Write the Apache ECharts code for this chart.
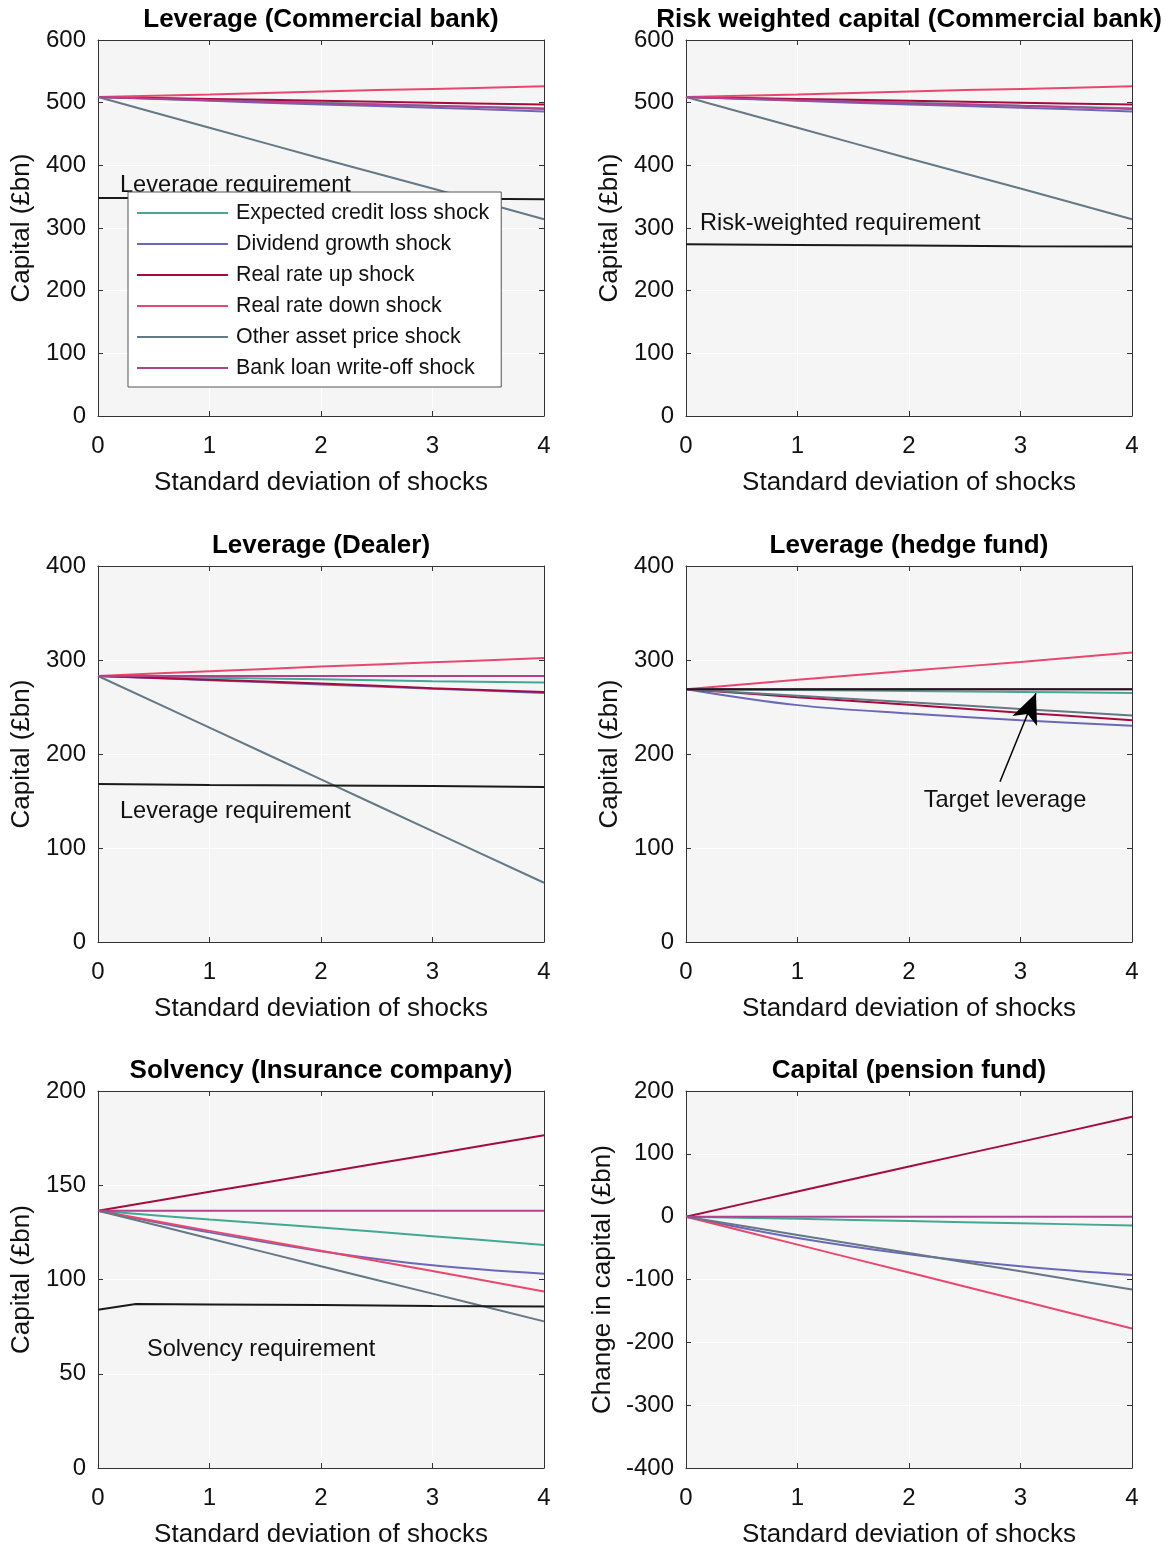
<!DOCTYPE html>
<html><head><meta charset="utf-8">
<script src="https://cdn.jsdelivr.net/npm/echarts@6/dist/echarts.min.js"></script>
<style>html,body{margin:0;padding:0;background:#fff}#c{width:1171px;height:1549px}</style>
</head><body><div id="c"></div>
<script>
// ---------- data ----------
const sd = [0, 1, 2, 3, 4];
const shockNames = ['Expected credit loss shock', 'Dividend growth shock', 'Real rate up shock',
  'Real rate down shock', 'Other asset price shock', 'Bank loan write-off shock'];

// Leverage (Commercial bank)
const cbLevECL = [509, 505, 500, 495, 491];
const cbLevDIV = [509, 503, 497, 492, 486];
const cbLevRRU = [509, 506, 503, 500, 497];
const cbLevRRD = [509, 513, 518, 522, 526];
const cbLevOAP = [509, 460, 411, 363, 314];
const cbLevBLW = [509, 504, 499, 495, 490];
const cbLevReq = [348, 348, 347, 347, 346];

// Risk weighted capital (Commercial bank)
const cbRwECL = [509, 505, 500, 495, 491];
const cbRwDIV = [509, 503, 497, 492, 486];
const cbRwRRU = [509, 506, 503, 500, 497];
const cbRwRRD = [509, 513, 518, 522, 526];
const cbRwOAP = [509, 460, 411, 363, 314];
const cbRwBLW = [509, 504, 499, 495, 490];
const cbRwReq = [274, 273, 272, 271, 270.5];

// Leverage (Dealer)
const dlECL = [283, 281, 279.5, 277.5, 276];
const dlDIV = [283, 278.5, 274, 269.5, 265];
const dlRRU = [283, 279, 275, 270, 266];
const dlRRD = [283, 288, 293, 297.5, 302];
const dlOAP = [283, 228, 173, 118, 63];
const dlBLW = [283, 283, 283, 283, 283];
const dlReq = [168, 167, 166.5, 166, 165];

// Leverage (hedge fund)
const hfECL = [269, 268, 267, 266, 265];
const hfDIV = [269, 252, 243, 236, 230];
const hfRRU = [269, 260.5, 252.5, 244, 236];
const hfRRD = [269, 279, 288.5, 298, 308];
const hfOAP = [269, 262, 255, 248, 241];
const hfBLW = [269, 269, 269, 269, 269];
const hfTarget = [269, 269, 269, 269, 269];

// Solvency (Insurance company)
const icECL = [136.5, 131.8, 127.6, 123, 118.3];
const icDIV = [136.5, 125, 115, 107.5, 103];
const icRRU = [136.5, 146.5, 156.5, 166.5, 176.5];
const icRRD = [136.5, 125.8, 115.2, 104.5, 93.6];
const icOAP = [136.5, 121.8, 107, 92.5, 77.8];
const icBLW = [136.5, 136.5, 136.5, 136.5, 136.5];
const icReqX = [0, 0.34, 1, 2, 3, 4];
const icReq = [84, 87, 86.8, 86.5, 86, 85.7];

// Capital (pension fund)
const pfECL = [0, -3.5, -7, -10.5, -14];
const pfDIV = [0, -34, -60, -79, -93];
const pfRRU = [0, 40, 80, 119, 159];
const pfRRD = [0, -44.5, -89, -133.5, -178];
const pfOAP = [0, -29, -58, -87, -116];
const pfBLW = [0, 0, 0, 0, 0];

const xTicks = [0, 4, 1];          // min, max, interval
const yTicks1 = [0, 600, 100];
const yTicks2 = [0, 400, 100];
const yTicks3 = [0, 200, 50];
const yTicks4 = [-400, 200, 100];

// ---------- styling ----------
const FONT = '"Liberation Sans", Arial, Helvetica, sans-serif';
const colors = ['#43a892', '#6c68b8', '#a50b3f', '#e8486d', '#647885', '#b0428e'];
const reqColor = '#1a1a1a';
const axisColor = '#333';

const panels = [
  { title: 'Leverage (Commercial bank)', yName: 'Capital (£bn)', y: yTicks1, left: 98, top: 40, h: 376, nameGap: 63,
    s: [cbLevECL, cbLevDIV, cbLevRRU, cbLevRRD, cbLevOAP, cbLevBLW], reqName: 'Leverage requirement', reqX: sd, req: cbLevReq },
  { title: 'Risk weighted capital (Commercial bank)', yName: 'Capital (£bn)', y: yTicks1, left: 686, top: 40, h: 376, nameGap: 63,
    s: [cbRwECL, cbRwDIV, cbRwRRU, cbRwRRD, cbRwOAP, cbRwBLW], reqName: 'Risk-weighted requirement', reqX: sd, req: cbRwReq },
  { title: 'Leverage (Dealer)', yName: 'Capital (£bn)', y: yTicks2, left: 98, top: 566, h: 376, nameGap: 63,
    s: [dlECL, dlDIV, dlRRU, dlRRD, dlOAP, dlBLW], reqName: 'Leverage requirement', reqX: sd, req: dlReq },
  { title: 'Leverage (hedge fund)', yName: 'Capital (£bn)', y: yTicks2, left: 686, top: 566, h: 376, nameGap: 63,
    s: [hfECL, hfDIV, hfRRU, hfRRD, hfOAP, hfBLW], reqName: 'Target leverage', reqX: sd, req: hfTarget, arrow: true },
  { title: 'Solvency (Insurance company)', yName: 'Capital (£bn)', y: yTicks3, left: 98, top: 1091, h: 378, nameGap: 63,
    s: [icECL, icDIV, icRRU, icRRD, icOAP, icBLW], reqName: 'Solvency requirement', reqX: icReqX, req: icReq },
  { title: 'Capital (pension fund)', yName: 'Change in capital (£bn)', y: yTicks4, left: 686, top: 1091, h: 378, nameGap: 70,
    s: [pfECL, pfDIV, pfRRU, pfRRD, pfOAP, pfBLW] }
];

const W = 446;
const grid = [], xAxis = [], yAxis = [], series = [], graphic = [];
const labelStyle = { fontSize: 24, color: '#111', fontFamily: FONT };

panels.forEach((p, i) => {
  grid.push({ left: p.left, top: p.top, width: W, height: p.h, show: true, backgroundColor: '#f5f5f5', borderWidth: 0 });
  xAxis.push({ type: 'value', gridIndex: i, position: 'bottom', min: xTicks[0], max: xTicks[1], interval: xTicks[2],
    name: 'Standard deviation of shocks', nameLocation: 'middle', nameGap: 54,
    nameTextStyle: { fontSize: 26, color: '#111', fontFamily: FONT },
    axisLine: { show: true, onZero: false, lineStyle: { color: axisColor, width: 1 } },
    axisTick: { show: true, inside: true, length: 5, lineStyle: { color: axisColor } },
    axisLabel: Object.assign({ margin: 18 }, labelStyle),
    splitLine: { show: true, lineStyle: { color: '#ffffff', width: 1 } } });
  xAxis.push({ type: 'value', gridIndex: i, position: 'top', min: xTicks[0], max: xTicks[1], interval: xTicks[2],
    axisLine: { show: true, onZero: false, lineStyle: { color: axisColor, width: 1 } },
    axisTick: { show: true, inside: true, length: 5, lineStyle: { color: axisColor } },
    axisLabel: { show: false }, splitLine: { show: false } });
  yAxis.push({ type: 'value', gridIndex: i, position: 'left', min: p.y[0], max: p.y[1], interval: p.y[2],
    name: p.yName, nameLocation: 'middle', nameGap: p.nameGap,
    nameTextStyle: { fontSize: 26, color: '#111', fontFamily: FONT },
    axisLine: { show: true, onZero: false, lineStyle: { color: axisColor, width: 1 } },
    axisTick: { show: true, inside: true, length: 5, lineStyle: { color: axisColor } },
    axisLabel: Object.assign({ margin: 12, padding: [4, 0, 0, 0] }, labelStyle),
    splitLine: { show: true, lineStyle: { color: '#ffffff', width: 1 } } });
  yAxis.push({ type: 'value', gridIndex: i, position: 'right', min: p.y[0], max: p.y[1], interval: p.y[2],
    axisLine: { show: true, onZero: false, lineStyle: { color: axisColor, width: 1 } },
    axisTick: { show: true, inside: true, length: 5, lineStyle: { color: axisColor } },
    axisLabel: { show: false }, splitLine: { show: false } });

  p.s.forEach((vals, k) => {
    series.push({ type: 'line', name: shockNames[k], xAxisIndex: 2 * i, yAxisIndex: 2 * i,
      data: sd.map((x, j) => [x, vals[j]]), symbol: 'none', smooth: 0.35,
      lineStyle: { color: colors[k], width: 2 }, itemStyle: { color: colors[k] }, z: 3 + k * 0.01 });
  });
  if (p.req) {
    const s = { type: 'line', name: p.reqName, xAxisIndex: 2 * i, yAxisIndex: 2 * i,
      data: p.reqX.map((x, j) => [x, p.req[j]]), symbol: 'none',
      lineStyle: { color: reqColor, width: 2 }, itemStyle: { color: reqColor }, z: 4 };
    if (p.arrow) {
      s.markLine = { silent: true, symbol: ['none', 'arrow'], symbolSize: [20, 30], animation: false,
        lineStyle: { color: '#000', width: 1.5, type: 'solid' }, label: { show: false },
        data: [[{ coord: [2.816, 170.5] }, { coord: [3.139, 264.6] }]] };
    }
    series.push(s);
  }
  graphic.push({ type: 'text', x: p.left + W / 2, y: p.top - 20, z: 10,
    style: { text: p.title, align: 'center', verticalAlign: 'middle', font: 'bold 26px ' + FONT, fill: '#000' } });
});

const notes = [
  { t: 'Leverage requirement', x: 120, y: 185, a: 'left' },
  { t: 'Risk-weighted requirement', x: 700, y: 223, a: 'left' },
  { t: 'Leverage requirement', x: 120, y: 811, a: 'left' },
  { t: 'Target leverage', x: 1005, y: 800, a: 'center' },
  { t: 'Solvency requirement', x: 147, y: 1349, a: 'left' }
];
notes.forEach(n => graphic.push({ type: 'text', x: n.x, y: n.y, z: 5,
  style: { text: n.t, align: n.a, verticalAlign: 'middle', font: '23.6px ' + FONT, fill: '#111' } }));

const chart = echarts.init(document.getElementById('c'), null, { renderer: 'canvas' });
chart.setOption({
  animation: false,
  backgroundColor: '#ffffff',
  textStyle: { fontFamily: FONT },
  grid, xAxis, yAxis, series, graphic,
  legend: {
    data: shockNames, orient: 'vertical', left: 128, top: 192, z: 20,
    padding: [9, 12, 7, 9], itemGap: 7, itemWidth: 91, itemHeight: 2, icon: 'rect',
    backgroundColor: '#ffffff', borderColor: '#555', borderWidth: 1, selectedMode: false,
    textStyle: { fontSize: 21.4, lineHeight: 24, color: '#111', fontFamily: FONT, padding: [0, 0, 0, 3] }
  }
});
</script></body></html>
